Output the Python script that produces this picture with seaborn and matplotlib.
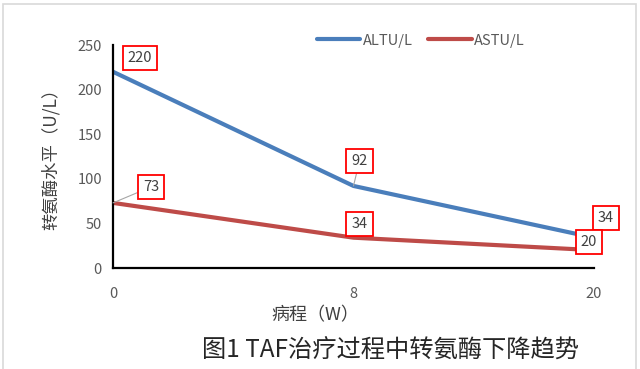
import pandas as pd
import matplotlib.pyplot as plt
from matplotlib.patches import Rectangle
import seaborn as sns

# Данные
weeks = ['0', '8', '20']
alt = [220, 92, 34]
ast = [73, 34, 20]
series_names = ['ALTU/L', 'ASTU/L']

df = pd.DataFrame({
    'week': weeks * 2,
    'value': alt + ast,
    'series': [series_names[0]] * 3 + [series_names[1]] * 3,
})

sns.set_style('white')
plt.rcParams['font.family'] = ['Noto Sans CJK SC', 'DejaVu Sans']

fig = plt.figure(figsize=(6.4, 3.69), dpi=100)
ax = fig.add_axes([0.1766, 0.2737, 0.7515, 0.6043])

palette = {'ALTU/L': '#4A7EBB', 'ASTU/L': '#BE4B48'}
sns.lineplot(data=df, x='week', y='value', hue='series', palette=palette,
             linewidth=3, sort=False, ax=ax)

ax.set_xlim(0, 2)
ax.set_ylim(0, 250)
ax.set_yticks([0, 50, 100, 150, 200, 250])
for s in ['top', 'right']:
    ax.spines[s].set_visible(False)
for s in ['left', 'bottom']:
    ax.spines[s].set_color('black')
    ax.spines[s].set_linewidth(1.6)
ax.tick_params(axis='y', length=0, labelsize=10.5, colors='#595959', pad=8)
ax.tick_params(axis='x', length=5, width=1.2, color='black', direction='out',
               labelsize=10.5, labelcolor='#595959', pad=9)

ax.set_xlabel('病程（W）', fontsize=13, color='#404040')
ax.set_ylabel('转氨酶水平（U/L）', fontsize=12.5, color='#404040')
ax.xaxis.set_label_coords(0.42, -0.17)
ax.yaxis.set_label_coords(-0.11, 0.507)

ax.legend(loc='center', bbox_to_anchor=(0.64, 1.02), ncol=2, frameon=False,
          fontsize=10.5, handlelength=3, columnspacing=1.0, handletextpad=0.2,
          labelcolor='#595959')

# Подписи значений в красных рамках (смещение, нужна ли выноска)
offsets_alt = [((27, 14), False), ((6, 25), True), ((12, 20), False)]
offsets_ast = [((38, 16), True), ((6, 14), False), ((-5, 8), False)]
box = dict(boxstyle='square,pad=0.35', fc='white', ec='red', lw=1.3)
for vals, offs in [(alt, offsets_alt), (ast, offsets_ast)]:
    for i, (v, (o, lead)) in enumerate(zip(vals, offs)):
        arrow = dict(arrowstyle='-', color='#A6A6A6', lw=0.8, shrinkA=0, shrinkB=0) if lead else None
        ax.annotate(str(v), xy=(i, v), xytext=o, textcoords='offset pixels',
                    ha='center', va='center', fontsize=10.5, color='#404040', bbox=box,
                    arrowprops=arrow, annotation_clip=False, zorder=5)

fig.text(0.61, 0.05, '图1 TAF治疗过程中转氨酶下降趋势', ha='center', va='center',
         fontsize=17.5, color='#262626')

fig.patches.append(Rectangle((0.005, -0.02), 0.988, 1.01, transform=fig.transFigure,
                             fill=False, ec='#D9D9D9', lw=1.2))

plt.savefig('out.png', dpi=100)
plt.close()
